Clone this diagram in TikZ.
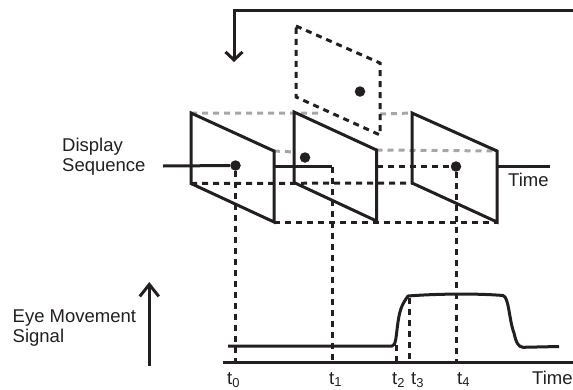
\documentclass[tikz,border=0pt]{standalone}
\usepackage{fontspec}
\setmainfont{Liberation Sans}
\usetikzlibrary{arrows.meta,positioning}
\definecolor{inkblk}{HTML}{231F20}
\tikzset{
  line/.style={draw=inkblk, line width=3pt},
  arr/.style={line, -{Straight Barb[length=8pt, width=17pt, line width=3pt]}},
  arrbig/.style={line, -{Straight Barb[length=12pt, width=19pt, line width=3pt]}},
  dsh/.style={draw=inkblk, line width=3pt, dash pattern=on 6pt off 5pt},
  gdsh/.style={draw=gray!70, line width=3pt, dash pattern=on 6pt off 5pt},
  dot/.style={circle, fill=inkblk, inner sep=0pt, minimum size=10.5pt},
  lbl/.style={font=\fontsize{18.5}{20.5}\selectfont, text=inkblk, inner sep=0pt, align=left},
  tick/.style={lbl, anchor=base west}
}
\begin{document}
\begin{tikzpicture}[x=1pt, y=-1pt]
  \useasboundingbox (0,0) rectangle (573,389);
  % frame corners
  \coordinate (a1) at (191,113); \coordinate (a2) at (274,151);
  \coordinate (a3) at (274,222); \coordinate (a4) at (191,183.5);
  \coordinate (b1) at (294,112); \coordinate (b2) at (376.5,150);
  \coordinate (b3) at (376.5,221); \coordinate (b4) at (294,182.5);
  \coordinate (c1) at (412,113); \coordinate (c2) at (497,151);
  \coordinate (c3) at (497,222); \coordinate (c4) at (412,183);
  \coordinate (d1) at (296,26); \coordinate (d2) at (380,63);
  \coordinate (d3) at (380,135); \coordinate (d4) at (296,97);
  % dots
  \node[dot] (p0) at (235.5,165.5) {};
  \node[dot] (p1) at (305,157.5) {};
  \node[dot] (p2) at (360,91.5) {};
  \node[dot] (p4) at (456,166.5) {};
  % axis ends
  \coordinate (t0) at (235.5,362); \coordinate (t1) at (332,362);
  \coordinate (t2) at (396,362); \coordinate (t3) at (409.5,362);
  \coordinate (t4) at (456,362);
  \coordinate (r1) at (332,166.5);
  \coordinate (s2) at (396,345); \coordinate (s3) at (409.5,298);
  % grey dashes behind
  \draw[gdsh] (a1) -- (320,113) (380,114) -- (c1);
  \draw[gdsh] (a2) -- (294,152) (b2) -- (c2);
  % black dashes
  \draw[dsh] (a4) -- (c4);
  \draw[dsh] (a3) -- (c3);
  \draw[dsh] (376.5,166.5) -- (p4);
  \draw[dsh] (d1) -- (d2) -- (d3) -- (d4) -- cycle;
  \foreach \a/\b in {p0/t0, r1/t1, s2/t2, s3/t3, p4/t4}
    \draw[dsh] (\a) -- (\b);
  % frames
  \foreach \f in {a,b,c}
    \draw[line, line join=miter] (\f1) -- (\f2) -- (\f3) -- (\f4) -- cycle;
  % time line pieces
  \draw[line] (163,166) -- (p0);
  \draw[line] (a2 |- r1) -- (r1);
  \draw[line] (c2 |- r1) -- (550,166.5);
  % feedback
  \coordinate (fb) at (234,62);
  \draw[arr] (573,10) -| (fb);
  % lower plot
  \draw[line] (223,362) -- (573,362);
  \draw[arrbig] (149.3,365.5) -- (149.3,282);
  \draw[line, line join=round] (228,346) -- (392,346) .. controls (396,346) and (396,336) .. (398,322)
    .. controls (400,308) and (403,303) .. (408,296) .. controls (440,293.5) and (480,293.5) .. (503,295.5)
    .. controls (509,297) and (509,320) .. (514,333) .. controls (516,342) and (518,347) .. (523,347.3)
    -- (559,346.5);
  % labels
  \node[lbl, anchor=base west] (seq) at (62,171.7) {Display\\Sequence};
  \node[lbl, anchor=base west] (eye) at (12.5,342.5) {Eye Movement\\Signal};
  \node[lbl, anchor=base west] (time1) at (508,186.5) {Time};
  \node[lbl, anchor=base west] (time2) at (532,384) {Time};
  \foreach \n/\x/\s in {n0/227/0, n1/329/1, n2/392/2, n3/411/3, n4/457/4}
    \node[tick] (\n) at (\x,384) {t\textsubscript{\s}};
\end{tikzpicture}
\end{document}
